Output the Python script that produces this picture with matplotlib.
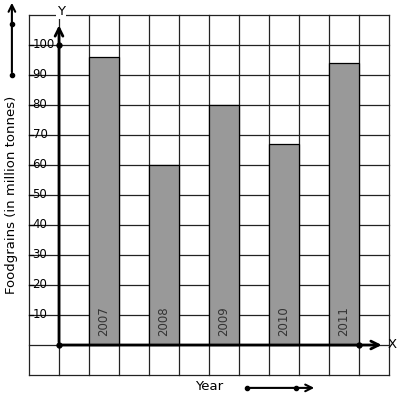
import matplotlib
matplotlib.use("Agg")
import matplotlib.pyplot as plt

years = ["2007", "2008", "2009", "2010", "2011"]
foodgrains = [96, 60, 80, 67, 94]
yticks = [10, 20, 30, 40, 50, 60, 70, 80, 90, 100]

fig = plt.figure(figsize=(3.97, 4.01), dpi=100)
ax = fig.add_axes([0, 0, 1, 1])
ax.set_xlim((0 - 59) / 30, (397 - 59) / 30)
ax.set_ylim((345 - 401) / 3, 345 / 3)
ax.axis("off")

# grid paper
for gx in range(-1, 12):
    ax.plot([gx, gx], [-10, 110], color="#222222", lw=0.9, zorder=1)
for gy in range(-10, 111, 10):
    ax.plot([-1, 11], [gy, gy], color="#222222", lw=0.9, zorder=1)

# bars
pos = [1.5 + 2 * i for i in range(len(years))]
ax.bar(pos, foodgrains, width=1.0, color="#999999", edgecolor="black", lw=0.9, zorder=2)
for p, yr in zip(pos, years):
    ax.text(p, 8, yr, rotation=90, ha="center", va="center", fontsize=8.5,
            color="#333333", zorder=3)

# axes with arrows
ax.annotate("", xy=(0, 107.5), xytext=(0, 0),
            arrowprops=dict(arrowstyle="->", lw=2, color="black", mutation_scale=14), zorder=4)
ax.annotate("", xy=(10.85, 0), xytext=(0, 0),
            arrowprops=dict(arrowstyle="->", lw=2, color="black", mutation_scale=14), zorder=4)
ax.plot([0, 0, 10], [0, 100, 0], "o", color="black", ms=3.5, zorder=5)
ax.text(0.07, 111, "Y", ha="center", va="center", fontsize=9.5,
        bbox=dict(facecolor="white", edgecolor="none", pad=0.5), zorder=5)
ax.text(10.97, 0, "X", ha="left", va="center", fontsize=9.5, zorder=5)

# y tick labels
for t in yticks:
    ax.plot([-1, -0.88], [t, t], color="black", lw=0.9, zorder=3)
    ax.text(-0.88, t, str(t), ha="left", va="center", fontsize=8.5, zorder=3)

ax.text(-1.57, 50, "Foodgrains (in million tonnes)", rotation=90,
        ha="center", va="center", fontsize=9.5)
ax.text(5.0, -14, "Year", ha="center", va="center", fontsize=9.5)

# decorative arrows
ax.annotate("", xy=(-1.57, 115), xytext=(-1.57, 90),
            arrowprops=dict(arrowstyle="->", lw=1.5, color="black", mutation_scale=12))
ax.plot([-1.57, -1.57], [90, 107], "o", color="black", ms=3)
ax.annotate("", xy=(8.6, -14.3), xytext=(6.27, -14.3),
            arrowprops=dict(arrowstyle="->", lw=1.5, color="black", mutation_scale=12))
ax.plot([6.27, 7.9], [-14.3, -14.3], "o", color="black", ms=3)

fig.savefig("out.png", dpi=100, facecolor="white")
